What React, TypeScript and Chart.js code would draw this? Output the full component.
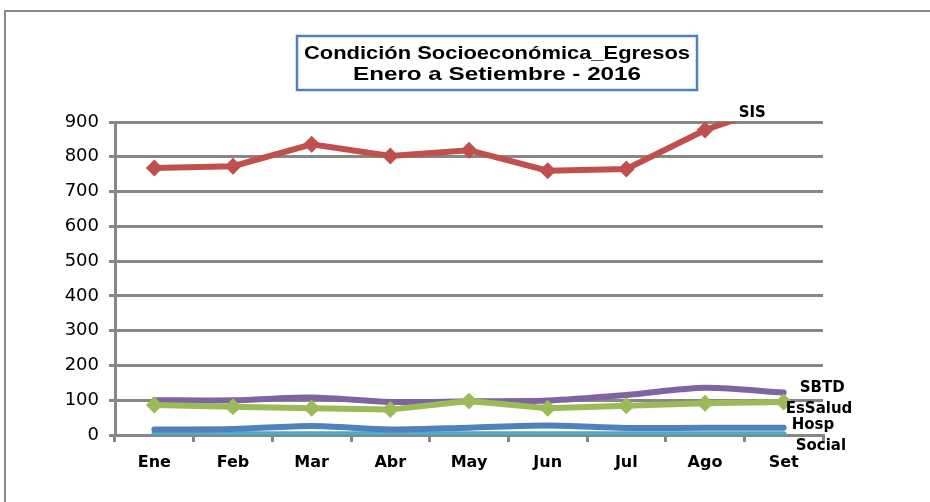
import { useEffect, useRef } from "react";
import { Chart, registerables } from "chart.js";

Chart.register(...registerables);

const months = ["Ene", "Feb", "Mar", "Abr", "May", "Jun", "Jul", "Ago", "Set"];
const sis = [768, 773, 836, 802, 819, 760, 765, 877, 955];
const sbtd = [100, 100, 108, 95, 97, 99, 115, 136, 122];
const essalud = [86, 81, 77, 73, 98, 77, 84, 91, 95];
const hosp = [16, 17, 26, 16, 21, 27, 20, 21, 21];
const social = [2, 2, 2, 2, 2, 2, 2, 2, 2];
const yMin = 0;
const yMax = 900;
const yStep = 100;
const titleLines = ["Condición Socioeconómica_Egresos", "Enero a Setiembre - 2016"];

const GRID = "#878787";

// series end-label offsets (style only)
const endLabels: Record<string, { dx: number; dy: number }> = {
  SIS: { dx: -45, dy: -9 },
  SBTD: { dx: 16, dy: -4 },
  EsSalud: { dx: 2, dy: 7 },
  Hosp: { dx: 8, dy: -3 },
  Social: { dx: 12, dy: 12 },
};

const framePlugin = {
  id: "frame",
  beforeDraw(chart: any) {
    const { ctx } = chart;
    ctx.save();
    ctx.fillStyle = "#ffffff";
    ctx.fillRect(0, 0, chart.width, chart.height);
    ctx.strokeStyle = "#898989";
    ctx.lineWidth = 2;
    ctx.strokeRect(5, 11, chart.width + 20, chart.height + 20);
    ctx.restore();
  },
};

const titlePlugin = {
  id: "boxTitle",
  afterDraw(chart: any) {
    const { ctx } = chart;
    ctx.save();
    const bx = 297, by = 36, bw = 400, bh = 54;
    ctx.fillStyle = "#ffffff";
    ctx.fillRect(bx, by, bw, bh);
    ctx.strokeStyle = "#4F81BD";
    ctx.lineWidth = 2.5;
    ctx.strokeRect(bx, by, bw, bh);
    ctx.fillStyle = "#000000";
    ctx.font = 'bold 19px "Liberation Sans Narrow", "Liberation Sans", Arial, sans-serif';
    ctx.textAlign = "center";
    ctx.textBaseline = "middle";
    const targets = [386, 288];
    const ys = [54, 75];
    titleLines.forEach((t, i) => {
      const w = ctx.measureText(t).width;
      const s = targets[i] / w;
      ctx.save();
      ctx.translate(bx + bw / 2, ys[i]);
      ctx.scale(s, 1);
      ctx.fillText(t, 0, 0);
      ctx.restore();
    });
    ctx.restore();
  },
};

const labelPlugin = {
  id: "endLabels",
  afterDatasetsDraw(chart: any) {
    const { ctx, chartArea } = chart;
    const xs = chart.scales.x;
    const ysc = chart.scales.y;
    ctx.save();
    ctx.fillStyle = "#000000";
    ctx.font = 'bold 15px "DejaVu Sans", Verdana, sans-serif';
    ctx.textAlign = "left";
    ctx.textBaseline = "middle";
    chart.data.datasets.forEach((ds: any) => {
      const off = endLabels[ds.label];
      if (!off) return;
      const last = ds.data.length - 1;
      const x = xs.getPixelForValue(last);
      let y = ysc.getPixelForValue(ds.data[last]);
      if (y < chartArea.top) y = chartArea.top;
      ctx.fillText(ds.label, x + off.dx, y + off.dy);
    });
    ctx.restore();
  },
};

export default function App() {
  const ref = useRef<HTMLCanvasElement | null>(null);

  useEffect(() => {
    if (!ref.current) return;
    const chart = new Chart(ref.current, {
      type: "line",
      data: {
        labels: months,
        datasets: [
          {
            label: "Hosp",
            data: hosp,
            borderColor: "#4F81BD",
            backgroundColor: "#4F81BD",
            borderWidth: 6,
            pointRadius: 0,
            tension: 0.3,
            borderCapStyle: "round",
          },
          {
            label: "Social",
            data: social,
            borderColor: "#4BACC6",
            backgroundColor: "#4BACC6",
            borderWidth: 6,
            pointRadius: 0,
            tension: 0.3,
            borderCapStyle: "round",
          },
          {
            label: "EsSalud",
            data: essalud,
            borderColor: "#9BBB59",
            backgroundColor: "#9BBB59",
            borderWidth: 6,
            pointStyle: "rectRot",
            pointRadius: 8.5,
            pointBorderWidth: 0,
            tension: 0,
          },
          {
            label: "SBTD",
            data: sbtd,
            borderColor: "#8064A2",
            backgroundColor: "#8064A2",
            borderWidth: 6,
            pointRadius: 0,
            tension: 0.3,
            borderCapStyle: "round",
          },
          {
            label: "SIS",
            data: sis,
            borderColor: "#C0504D",
            backgroundColor: "#C0504D",
            borderWidth: 6,
            pointStyle: "rectRot",
            pointRadius: 8.5,
            pointBorderWidth: 0,
            tension: 0,
          },
        ],
      },
      options: {
        responsive: false,
        animation: false,
        layout: { padding: { top: 122, right: 107, left: 0, bottom: 0 } },
        plugins: {
          legend: { display: false },
          title: { display: false },
          tooltip: { enabled: false },
        },
        scales: {
          x: {
            offset: true,
            grid: {
              offset: true,
              drawOnChartArea: false,
              drawTicks: true,
              tickLength: 7,
              color: GRID,
              lineWidth: 3,
            },
            border: { display: true, color: GRID, width: 3 },
            ticks: {
              color: "#000000",
              font: { family: '"DejaVu Sans", Verdana, sans-serif', size: 16, weight: "bold" },
              padding: 11,
              maxRotation: 0,
              autoSkip: false,
            },
            afterFit(scale: any) {
              scale.height = 67;
            },
          },
          y: {
            min: yMin,
            max: yMax,
            grid: {
              color: GRID,
              lineWidth: 3,
              tickLength: 6,
              drawTicks: true,
            },
            border: { display: true, color: GRID, width: 3 },
            ticks: {
              stepSize: yStep,
              color: "#000000",
              font: { family: '"DejaVu Sans", Verdana, sans-serif', size: 18 },
              padding: 10,
            },
            afterFit(scale: any) {
              scale.width = 115;
            },
          },
        },
      },
      plugins: [framePlugin, titlePlugin, labelPlugin],
    });
    return () => chart.destroy();
  }, []);

  return (
    <div style={{ position: "absolute", left: 0, top: 0, width: 930, height: 502 }}>
      <canvas ref={ref} width={930} height={502} style={{ display: "block" }} />
    </div>
  );
}
